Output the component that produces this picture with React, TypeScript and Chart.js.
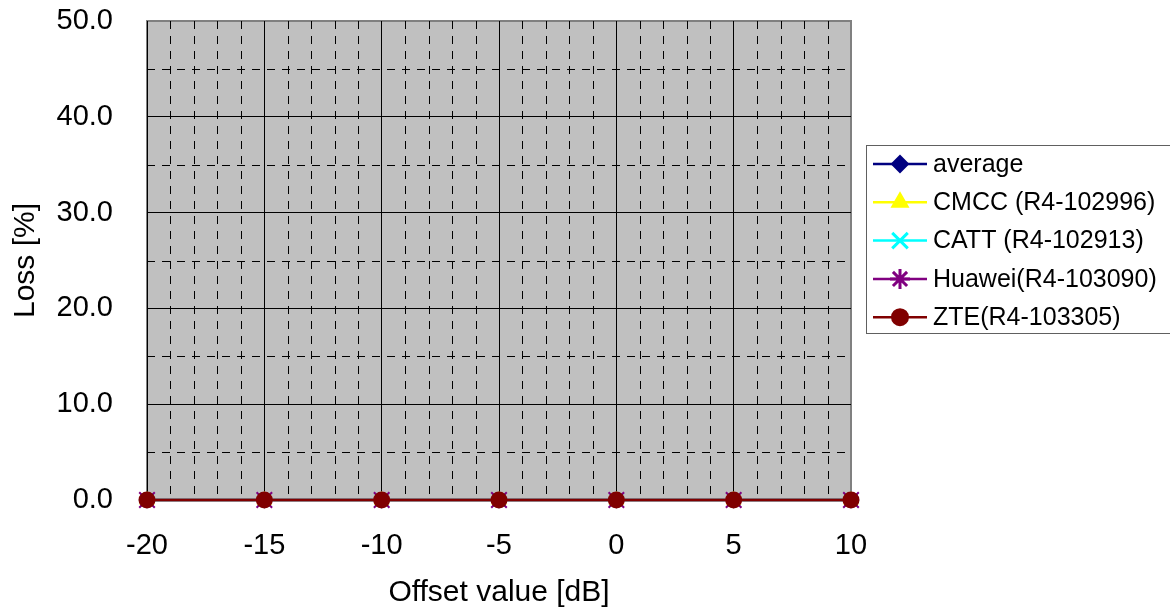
import React, { useEffect, useRef } from "react";
import { Chart, registerables } from "chart.js";
import { drawPoint } from "chart.js/helpers";

Chart.register(...registerables);

const offsetValues = [-20, -15, -10, -5, 0, 5, 10];
const averageLoss = [0, 0, 0, 0, 0, 0, 0];
const cmccLoss = [0, 0, 0, 0, 0, 0, 0];
const cattLoss = [0, 0, 0, 0, 0, 0, 0];
const huaweiLoss = [0, 0, 0, 0, 0, 0, 0];
const zteLoss = [0, 0, 0, 0, 0, 0, 0];
const seriesNames = [
  "average",
  "CMCC (R4-102996)",
  "CATT (R4-102913)",
  "Huawei(R4-103090)",
  "ZTE(R4-103305)",
];
const yTickValues = [0, 10, 20, 30, 40, 50];
const xTickValues = [-20, -15, -10, -5, 0, 5, 10];
const xMinorStep = 1;
const yMinorStep = 5;

const FONT = "'Liberation Sans', Arial, Helvetica, sans-serif";

const toPoints = (vals: number[]) => offsetValues.map((x, i) => ({ x, y: vals[i] }));

const plotDecor = {
  id: "plotDecor",
  beforeDraw(chart: any) {
    const { ctx, chartArea } = chart;
    const { left, top, right, bottom } = chartArea;
    ctx.save();
    ctx.fillStyle = "#C0C0C0";
    ctx.fillRect(left, top, right - left, bottom - top);
    ctx.strokeStyle = "#808080";
    ctx.lineWidth = 2;
    ctx.strokeRect(left, top, right - left, bottom - top);
    ctx.restore();
  },
  beforeDatasetsDraw(chart: any) {
    const { ctx, chartArea, scales } = chart;
    const { left, top, right, bottom } = chartArea;
    const xs = scales.x;
    const ys = scales.y;
    ctx.save();
    ctx.strokeStyle = "#000000";
    ctx.lineWidth = 1;
    ctx.setLineDash([8, 7]);
    for (let v = xs.min; v <= xs.max; v += xMinorStep) {
      if (xTickValues.includes(v)) continue;
      const px = Math.round(xs.getPixelForValue(v)) + 0.5;
      ctx.beginPath();
      ctx.moveTo(px, top);
      ctx.lineTo(px, bottom);
      ctx.stroke();
    }
    for (let v = ys.min; v <= ys.max; v += yMinorStep) {
      if (yTickValues.includes(v)) continue;
      const py = Math.round(ys.getPixelForValue(v)) + 0.5;
      ctx.beginPath();
      ctx.moveTo(left, py);
      ctx.lineTo(right, py);
      ctx.stroke();
    }
    ctx.restore();
  },
  afterDraw(chart: any) {
    const { ctx } = chart;
    const boxLeft = 866;
    const boxTop = 145;
    const boxBottom = 333;
    ctx.save();
    ctx.fillStyle = "#FFFFFF";
    ctx.fillRect(boxLeft, boxTop, 1180 - boxLeft, boxBottom - boxTop);
    ctx.strokeStyle = "#606060";
    ctx.lineWidth = 1;
    ctx.strokeRect(boxLeft + 0.5, boxTop + 0.5, 1180 - boxLeft, boxBottom - boxTop);
    const rowStart = 164;
    const rowGap = 38.3;
    chart.data.datasets.forEach((ds: any, i: number) => {
      const y = rowStart + i * rowGap;
      ctx.strokeStyle = ds.borderColor;
      ctx.lineWidth = ds.borderWidth;
      ctx.setLineDash([]);
      ctx.beginPath();
      ctx.moveTo(873, y);
      ctx.lineTo(927, y);
      ctx.stroke();
      ctx.fillStyle = ds.pointBackgroundColor;
      ctx.strokeStyle = ds.pointBorderColor;
      ctx.lineWidth = ds.legendBorderWidth;
      drawPoint(
        ctx,
        {
          pointStyle: ds.pointStyle,
          radius: ds.legendRadius,
          borderWidth: ds.legendBorderWidth,
          rotation: 0,
        },
        900,
        y
      );
      ctx.fillStyle = "#000000";
      ctx.font = `25px ${FONT}`;
      ctx.textBaseline = "middle";
      ctx.textAlign = "left";
      ctx.fillText(ds.label, 933, y + 1);
    });
    ctx.restore();
  },
};

function makeDataset(
  label: string,
  vals: number[],
  color: string,
  style: string,
  radius: number,
  legendRadius: number,
  legendBorderWidth: number,
  drawOrder: number
) {
  return {
    label,
    data: toPoints(vals),
    borderColor: color,
    backgroundColor: color,
    borderWidth: 2.5,
    pointStyle: style,
    pointRadius: radius,
    legendRadius,
    legendBorderWidth,
    pointBorderColor: color,
    pointBackgroundColor: color,
    pointBorderWidth: 2,
    pointHoverRadius: radius,
    clip: false,
    tension: 0,
    order: drawOrder,
  };
}

export default function App() {
  const canvasRef = useRef<HTMLCanvasElement | null>(null);

  useEffect(() => {
    if (!canvasRef.current) return;
    const chart = new Chart(canvasRef.current, {
      type: "line",
      data: {
        datasets: [
          makeDataset(seriesNames[0], averageLoss, "#000080", "rectRot", 7, 8, 2, 4),
          makeDataset(seriesNames[1], cmccLoss, "#FFFF00", "triangle", 7, 9, 2, 3),
          makeDataset(seriesNames[2], cattLoss, "#00FFFF", "crossRot", 9, 11, 3, 2),
          makeDataset(seriesNames[3], huaweiLoss, "#800080", "crossRot", 11, 10, 3, 1),
          makeDataset(seriesNames[4], zteLoss, "#800000", "circle", 7.5, 8, 2, 0),
        ].map((d, i) => (i === 3 ? { ...d, legendStyle: "star" } : d)).map((d: any) =>
          d.legendStyle ? d : d
        ) as any,
      },
      options: {
        animation: false,
        responsive: false,
        devicePixelRatio: 1,
        layout: { padding: { left: 0, top: 21, right: 319, bottom: 0 } },
        plugins: {
          legend: { display: false },
          tooltip: { enabled: false },
        },
        scales: {
          x: {
            type: "linear",
            min: -20,
            max: 10,
            afterBuildTicks: (s: any) => {
              s.ticks = xTickValues.map((v) => ({ value: v }));
            },
            afterFit: (s: any) => {
              s.height = 112;
              s.paddingLeft = 0;
              s.paddingRight = 0;
            },
            ticks: {
              color: "#000000",
              font: { family: FONT, size: 29 },
              padding: 29,
              maxRotation: 0,
              autoSkip: false,
              callback: (v: any) => String(v),
            },
            grid: {
              drawTicks: false,
              color: (c: any) => (c.tick && c.tick.value === 10 ? "rgba(0,0,0,0)" : "#000000"),
              lineWidth: 1,
            },
            border: { display: false },
            title: {
              display: true,
              text: "Offset value [dB]",
              color: "#000000",
              font: { family: FONT, size: 30 },
              padding: { top: 0, bottom: 1 },
            },
          },
          y: {
            type: "linear",
            min: 0,
            max: 50,
            afterBuildTicks: (s: any) => {
              s.ticks = yTickValues.map((v) => ({ value: v }));
            },
            afterFit: (s: any) => {
              s.width = 147;
              s.paddingTop = 0;
              s.paddingBottom = 0;
            },
            ticks: {
              color: "#000000",
              font: { family: FONT, size: 29 },
              padding: 34,
              callback: (v: any) => Number(v).toFixed(1),
            },
            grid: {
              drawTicks: false,
              color: (c: any) => (c.tick && c.tick.value === 50 ? "rgba(0,0,0,0)" : "#000000"),
              lineWidth: 1,
            },
            border: { display: false },
            title: {
              display: true,
              text: "Loss [%]",
              color: "#000000",
              font: { family: FONT, size: 30 },
              padding: { top: 8, bottom: 8 },
            },
          },
        },
      } as any,
      plugins: [
        {
          id: "legendStyleFix",
          beforeInit() {},
        },
        {
          ...plotDecor,
          afterDraw(chart: any) {
            chart.data.datasets.forEach((ds: any) => {
              if (ds.legendStyle) {
                ds._plotStyle = ds.pointStyle;
                ds.pointStyle = ds.legendStyle;
              }
            });
            plotDecor.afterDraw(chart);
            chart.data.datasets.forEach((ds: any) => {
              if (ds.legendStyle) ds.pointStyle = ds._plotStyle;
            });
          },
        },
      ],
    });
    return () => chart.destroy();
  }, []);

  return (
    <div style={{ position: "absolute", left: 0, top: 0, width: 1170, height: 612, background: "#FFFFFF" }}>
      <canvas ref={canvasRef} width={1170} height={612} style={{ display: "block", width: 1170, height: 612 }} />
    </div>
  );
}
